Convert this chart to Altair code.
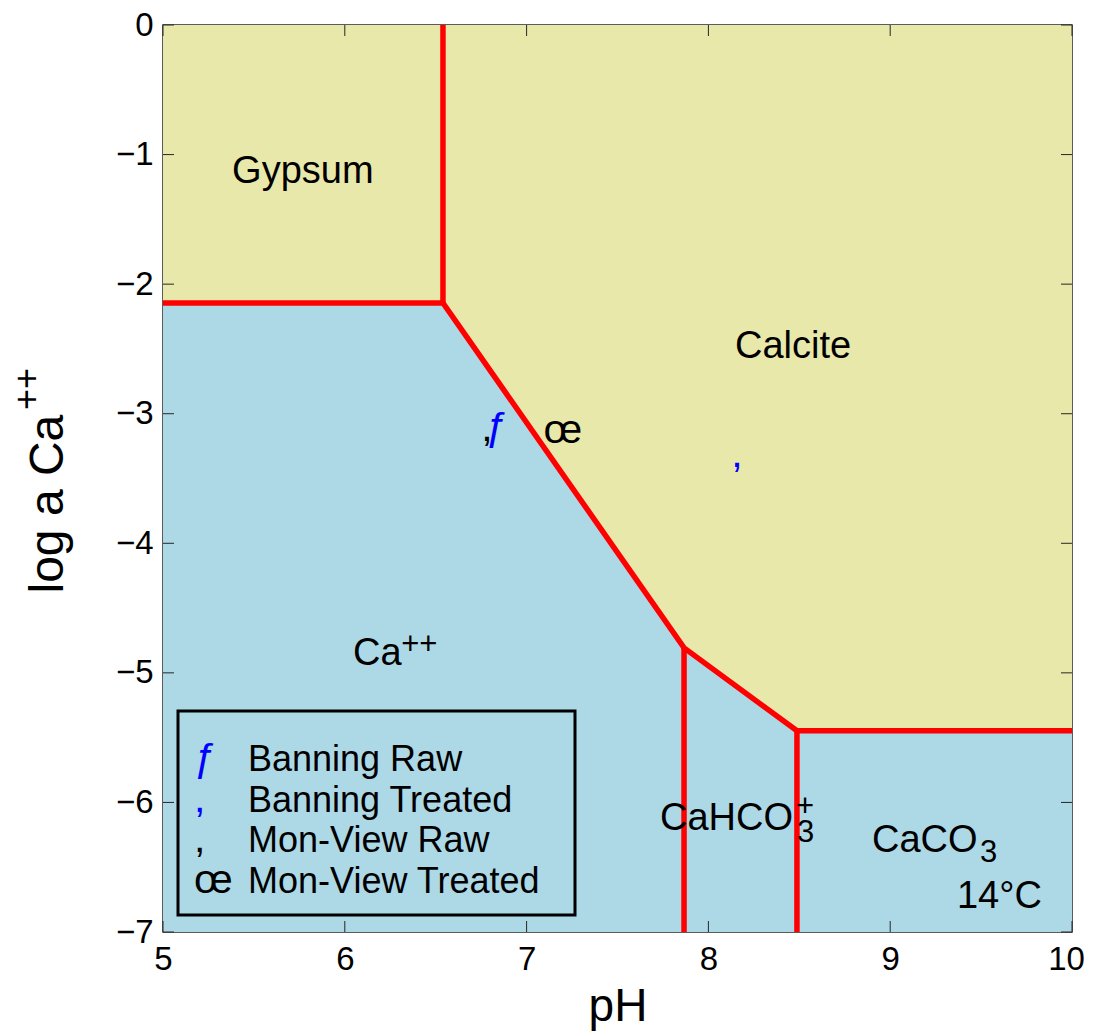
import altair as alt
import pandas as pd

FONT = "Liberation Sans"

# axis limits and ticks
x_domain = [5.0, 10.0]
y_domain = [-7.0, 0.0]
x_ticks = [5, 6, 7, 8, 9, 10]
y_ticks = [0, -1, -2, -3, -4, -5, -6, -7]

# stability boundary (lower edge of the mineral fields)
bnd_ph = [5.0, 6.54, 7.866, 8.487, 10.0]
bnd_log = [-2.145, -2.145, -4.807, -5.447, -5.447]

# vertical boundaries
vert_ph = [6.54, 7.866, 8.487]
vert_lo = [-2.145, -7.0, -7.0]
vert_hi = [0.0, -4.807, -5.447]

# sample points
pt_name = ["Banning Raw", "Banning Treated", "Mon-View Raw", "Mon-View Treated"]
pt_sym = ["ƒ", ",", ",", "œ"]
pt_color = ["#0000FF", "#0000FF", "#000000", "#000000"]
pt_ph = [6.837, 8.157, 6.782, 7.20]
pt_log = [-3.202, -3.41, -3.21, -3.225]

# field labels
lbl_text = ["Gypsum", "Calcite", "Ca", "CaHCO", "CaCO", "14°C"]
lbl_ph = [5.38, 8.146, 6.045, 7.734, 8.90, 9.367]
lbl_log = [-1.219, -2.569, -4.938, -6.211, -6.381, -6.813]

# super/subscripts
scr_text = ["++", "3", "+", "3"]
scr_ph = [6.31, 8.487, 8.482, 9.494]
scr_log = [-4.853, -6.304, -6.107, -6.458]

x_title = "pH"
y_title = "log a Ca"
y_title_sup = "++"

W, H = 909, 907

xs = alt.Scale(domain=x_domain, nice=False, zero=False)
ys = alt.Scale(domain=y_domain, nice=False, zero=False)

xaxis = alt.Axis(values=x_ticks, format="d", title=x_title, titleFont=FONT,
                 titleFontSize=46, titleFontWeight="normal", titleColor="black",
                 titleY=88, titleBaseline="alphabetic", labelFont=FONT,
                 labelFontSize=33, labelColor="black", labelPadding=11, ticks=False,
                 tickSize=0, domain=False, grid=False, labelFlush=False,
                 labelOverlap=False,
                 labelOffset={"condition": {"test": "datum.value >= 10", "value": -6},
                              "value": 0})
yaxis = alt.Axis(values=y_ticks, format="d", title=y_title, titleFont=FONT,
                 titleFontSize=48, titleFontWeight="normal", titleColor="black",
                 titleAngle=270, titleAlign="left", titleBaseline="alphabetic",
                 titleX=-101, titleY=568, labelFont=FONT, labelFontSize=33,
                 labelColor="black", labelPadding=10, ticks=False, tickSize=0,
                 domain=False, grid=False, labelFlush=False, labelOverlap=False)

bdf = pd.DataFrame({"ph": bnd_ph, "lg": bnd_log,
                    "top": y_domain[1], "bot": y_domain[0]})

blue = alt.Chart(bdf).mark_area(color="#ADD8E6").encode(
    x=alt.X("ph:Q", scale=xs, axis=xaxis),
    y=alt.Y("lg:Q", scale=ys, axis=yaxis),
    y2=alt.Y2("bot:Q"),
)
yellow = alt.Chart(bdf).mark_area(color="#E8E8AA").encode(
    x=alt.X("ph:Q", scale=xs),
    y=alt.Y("lg:Q", scale=ys),
    y2=alt.Y2("top:Q"),
)

# tick marks drawn inward on all four sides
xt = pd.DataFrame({"v": x_ticks})
yt = pd.DataFrame({"v": y_ticks})
TC = "#262626"
tick_b = alt.Chart(xt).mark_rule(color=TC, strokeWidth=1).encode(
    x=alt.X("v:Q", scale=xs), y=alt.value(H), y2=alt.value(H - 11))
tick_t = alt.Chart(xt).mark_rule(color=TC, strokeWidth=1).encode(
    x=alt.X("v:Q", scale=xs), y=alt.value(0), y2=alt.value(11))
tick_l = alt.Chart(yt).mark_rule(color=TC, strokeWidth=1).encode(
    y=alt.Y("v:Q", scale=ys), x=alt.value(0), x2=alt.value(11))
tick_r = alt.Chart(yt).mark_rule(color=TC, strokeWidth=1).encode(
    y=alt.Y("v:Q", scale=ys), x=alt.value(W), x2=alt.value(W - 11))

red_line = alt.Chart(bdf).mark_line(color="#FF0000", strokeWidth=5.5).encode(
    x=alt.X("ph:Q", scale=xs), y=alt.Y("lg:Q", scale=ys))
vdf = pd.DataFrame({"ph": vert_ph, "lo": vert_lo, "hi": vert_hi})
red_rules = alt.Chart(vdf).mark_rule(color="#FF0000", strokeWidth=5.5).encode(
    x=alt.X("ph:Q", scale=xs), y=alt.Y("lo:Q", scale=ys), y2=alt.Y2("hi:Q"))

ldf = pd.DataFrame({"t": lbl_text, "ph": lbl_ph, "lg": lbl_log})
labels = alt.Chart(ldf).mark_text(font=FONT, fontSize=38, align="left",
                                  baseline="alphabetic", color="black").encode(
    x=alt.X("ph:Q", scale=xs), y=alt.Y("lg:Q", scale=ys), text="t:N")
sdf = pd.DataFrame({"t": scr_text, "ph": scr_ph, "lg": scr_log})
scripts = alt.Chart(sdf).mark_text(font=FONT, fontSize=31, align="left",
                                   baseline="alphabetic", color="black").encode(
    x=alt.X("ph:Q", scale=xs), y=alt.Y("lg:Q", scale=ys), text="t:N")

pdf = pd.DataFrame({"name": pt_name, "sym": pt_sym, "c": pt_color,
                    "ph": pt_ph, "lg": pt_log, "i": list(range(len(pt_name)))})
points = alt.Chart(pdf).mark_text(font=FONT, fontSize=41, align="center",
                                  baseline="alphabetic").encode(
    x=alt.X("ph:Q", scale=xs), y=alt.Y("lg:Q", scale=ys), text="sym:N",
    color=alt.Color("c:N", scale=None))

# legend box
box = alt.Chart(pd.DataFrame({"a": [0]})).mark_rect(
    fill="#ADD8E6", stroke="black", strokeWidth=3).encode(
    x=alt.value(15), x2=alt.value(412), y=alt.value(686), y2=alt.value(890))
leg_base = alt.Chart(pdf).transform_calculate(py="746 + 40.7 * datum.i")
leg_sym = leg_base.mark_text(font=FONT, fontSize=41, align="left",
                             baseline="alphabetic").encode(
    x=alt.value(31), y=alt.Y("py:Q", scale=None), text="sym:N",
    color=alt.Color("c:N", scale=None))
leg_txt = leg_base.mark_text(font=FONT, fontSize=36, align="left",
                             baseline="alphabetic", color="black").encode(
    x=alt.value(85), y=alt.Y("py:Q", scale=None), text="name:N")

ysup = alt.Chart(pd.DataFrame({"t": [y_title_sup]})).mark_text(
    font=FONT, fontSize=36, align="left", baseline="alphabetic", angle=270,
    color="black").encode(x=alt.value(-124), y=alt.value(385), text="t:N")

chart = alt.layer(
    blue, yellow, tick_b, tick_t, tick_l, tick_r, red_line, red_rules,
    labels, scripts, points, box, leg_sym, leg_txt, ysup
).properties(
    width=W, height=H,
    autosize=alt.AutoSizeParams(type="none"),
    padding={"left": 155, "top": 17, "right": 13, "bottom": 100},
).configure_view(stroke="#262626", strokeWidth=1.5, fill="#ADD8E6")

chart.save("out.html", embed_options={"renderer": "svg", "actions": False})
